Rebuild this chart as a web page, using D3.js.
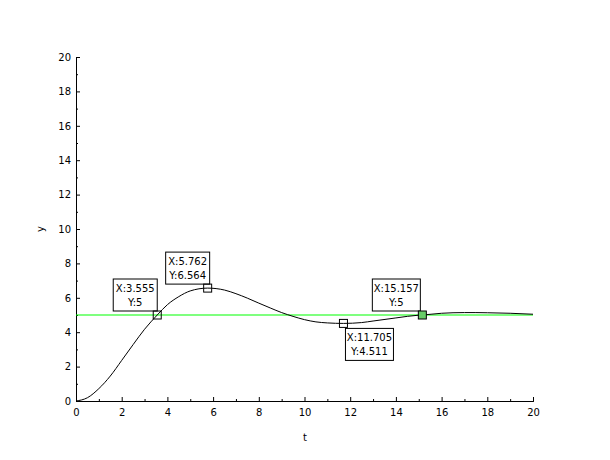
<!DOCTYPE html>
<html><head><meta charset="utf-8">
<script src="https://cdn.jsdelivr.net/npm/d3@7"></script>
<style>body{margin:0;background:#fff}text{font-family:"DejaVu Sans",sans-serif;font-size:10px}</style>
</head><body><svg id="c" width="610" height="460"></svg>
<script>
const tValues=[0,0.5,1,1.5,2,2.5,3,3.555,4,4.5,5,5.762,6.5,7,7.5,8,8.5,9,9.5,10,10.5,11,11.705,12.5,13,14,15,15.157,16,17,17.5,18,19,20];
const yValues=[0,0.19,0.72,1.45,2.36,3.28,4.17,5,5.60,6.07,6.40,6.564,6.45,6.24,5.98,5.69,5.41,5.14,4.92,4.73,4.6,4.54,4.511,4.56,4.65,4.83,4.99,5,5.10,5.14,5.14,5.13,5.10,5.045];
const refLevel=5;
const tips=[{x:3.555,y:5,lx:"X:3.555",ly:"Y:5",pos:"ul",fill:"none"},
{x:5.762,y:6.564,lx:"X:5.762",ly:"Y:6.564",pos:"uL",fill:"none"},
{x:11.705,y:4.511,lx:"X:11.705",ly:"Y:4.511",pos:"dr",fill:"none"},
{x:15.157,y:5,lx:"X:15.157",ly:"Y:5",pos:"ul",fill:"#6c6"}];
const xTicks=d3.range(0,21,2), yTicks=d3.range(0,21,2);
const svg=d3.select("#c");
const x=d3.scaleLinear().domain([0,20]).range([76,533]);
const y=d3.scaleLinear().domain([0,20]).range([401,57]);
const ax=svg.append("g").attr("transform","translate(0,401)").call(d3.axisBottom(x).tickValues(xTicks).tickSize(-4).tickFormat(d3.format("d")));
svg.append("g").attr("transform","translate(0,401)").call(d3.axisBottom(x).tickValues(d3.range(1,20,2)).tickSize(-2).tickFormat(""));
const ay=svg.append("g").attr("transform","translate(76,0)").call(d3.axisLeft(y).tickValues(yTicks).tickSize(-4).tickFormat(d3.format("d")));
svg.append("g").attr("transform","translate(76,0)").call(d3.axisLeft(y).tickValues(d3.range(1,20,2)).tickSize(-2).tickFormat(""));
svg.selectAll(".domain").attr("stroke","#000");
ax.selectAll("text").attr("dy","1.2em");
ay.selectAll("text").attr("dx","-0.2em");
svg.selectAll(".tick text").style("font-size","10px");
svg.append("text").attr("x",305).attr("y",441).attr("text-anchor","middle").text("t");
svg.append("text").attr("transform","translate(44,229) rotate(-90)").attr("text-anchor","middle").text("y");
svg.append("line").attr("x1",x(0)).attr("x2",x(20)).attr("y1",y(refLevel)).attr("y2",y(refLevel)).attr("stroke","#0f0").attr("stroke-width",1.2);
svg.append("path").datum(tValues.map((t,i)=>[t,yValues[i]])).attr("fill","none").attr("stroke","#000")
 .attr("d",d3.line().x(d=>x(d[0])).y(d=>y(d[1])).curve(d3.curveMonotoneX));
tips.forEach(t=>{
 const px=x(t.x), py=y(t.y);
 const w=t.lx.length>7?48:44, h=32;
 let bx,by;
 if(t.pos==="ul"){bx=px-w;by=py-h-4;}
 else if(t.pos==="uL"){bx=px-w+2;by=py-h-4;}
 else {bx=px+2;by=py+5;}
 if(t.lx==="X:15.157"){bx=px-50;}
 svg.append("rect").attr("x",bx).attr("y",by).attr("width",w).attr("height",h).attr("fill","#fff").attr("stroke","#000");
 svg.append("text").attr("x",bx+w/2).attr("y",by+13).attr("text-anchor","middle").text(t.lx);
 svg.append("text").attr("x",bx+w/2).attr("y",by+27).attr("text-anchor","middle").text(t.ly);
 svg.append("rect").attr("x",px-4).attr("y",py-4).attr("width",8).attr("height",8).attr("fill",t.fill==="none"?"none":t.fill).attr("stroke","#000");
});
</script></body></html>
